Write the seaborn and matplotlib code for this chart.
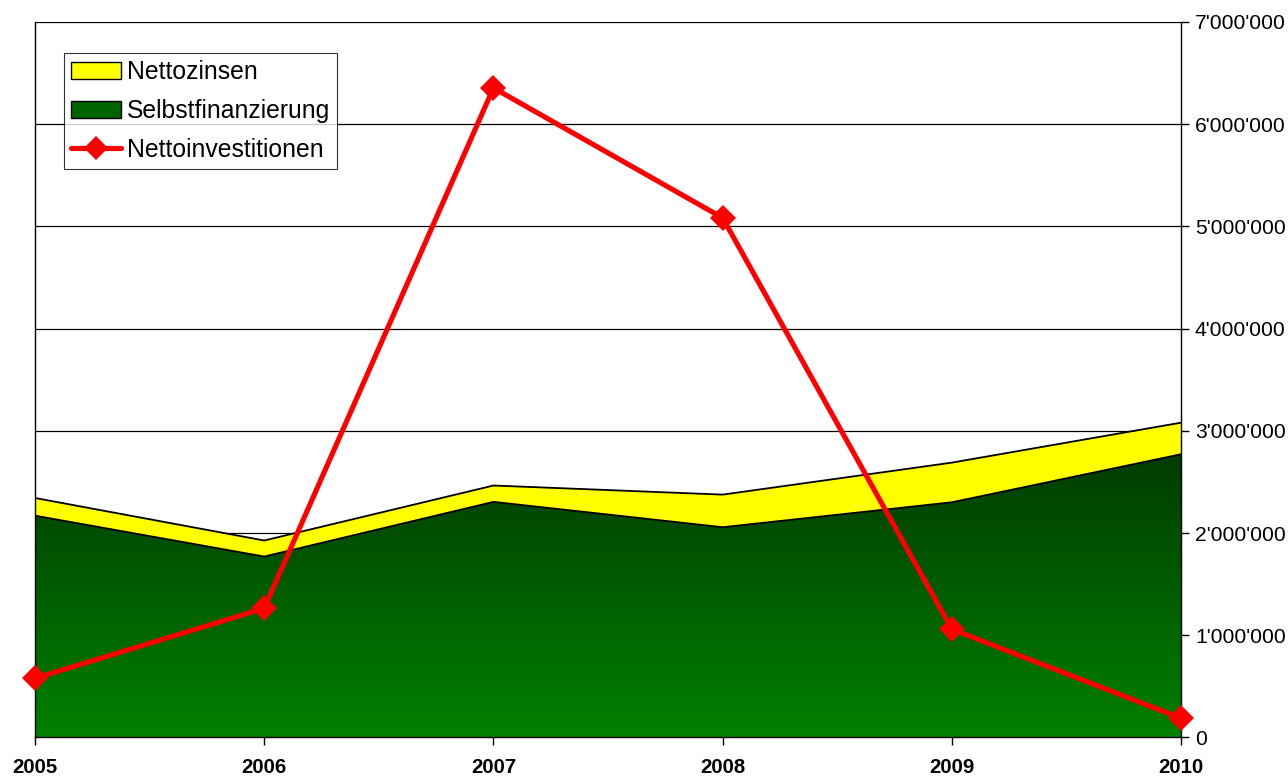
import numpy as np
import pandas as pd
import seaborn as sns
import matplotlib.pyplot as plt
from matplotlib.colors import LinearSegmentedColormap
from matplotlib.ticker import FuncFormatter
from matplotlib.lines import Line2D
from matplotlib.patches import Patch

# Data
years = [2005, 2006, 2007, 2008, 2009, 2010]
selbstfinanzierung = [2170000, 1770000, 2305000, 2057000, 2301000, 2771000]
nettozinsen = [173000, 157000, 160000, 319000, 388000, 309000]
nettoinvestitionen = [579000, 1264000, 6355000, 5083000, 1059000, 188000]

df = pd.DataFrame({"Jahr": years,
                   "Selbstfinanzierung": selbstfinanzierung,
                   "Nettozinsen": nettozinsen,
                   "Nettoinvestitionen": nettoinvestitionen})
df["Total"] = df["Selbstfinanzierung"] + df["Nettozinsen"]

sns.set_style("white")
plt.rcParams["font.family"] = ["Liberation Sans", "DejaVu Sans"]
plt.rcParams["text.color"] = "black"
plt.rcParams["xtick.color"] = "black"
plt.rcParams["ytick.color"] = "black"

fig = plt.figure(figsize=(12.88, 7.79), dpi=100)
ax = fig.add_axes([0.0272, 0.0533, 0.8898, 0.9185])

# Nettozinsen stacked on top (yellow)
ax.fill_between(df["Jahr"], df["Selbstfinanzierung"], df["Total"],
                color="#ffff00", zorder=2, linewidth=0)
ax.plot(df["Jahr"], df["Total"], color="black", lw=1.3, zorder=3)

# Selbstfinanzierung with vertical gradient
poly = ax.fill_between(df["Jahr"], 0, df["Selbstfinanzierung"],
                       facecolor="none", linewidth=0, zorder=2)
cmap = LinearSegmentedColormap.from_list("gr", ["#008000", "#003c00"])
grad = np.linspace(0, 1, 256).reshape(-1, 1)
top = df["Selbstfinanzierung"].max()
im = ax.imshow(grad, extent=[years[0], years[-1], 0, top], origin="lower",
               cmap=cmap, aspect="auto", zorder=2)
im.set_clip_path(poly.get_paths()[0], transform=ax.transData)
ax.plot(df["Jahr"], df["Selbstfinanzierung"], color="black", lw=1.3, zorder=3)

# Nettoinvestitionen line
sns.lineplot(data=df, x="Jahr", y="Nettoinvestitionen", ax=ax, color="#ff0000",
             lw=3.7, marker="D", markersize=13, markeredgewidth=0, zorder=5,
             clip_on=False)

ax.set_xlim(2005, 2010)
ax.set_ylim(0, 7000000)
ax.set_yticks(range(0, 7000001, 1000000))
ax.yaxis.set_major_formatter(FuncFormatter(lambda v, p: f"{int(v):,}".replace(",", "'")))
ax.yaxis.tick_right()
ax.grid(axis="y", color="black", lw=0.9, zorder=1)
ax.set_axisbelow(True)
ax.set_xlabel("")
ax.set_ylabel("")
ax.set_xticks(years)
ax.set_xticklabels([str(y) for y in years], fontweight="bold", fontsize=14.7)
ax.tick_params(axis="y", labelsize=15.2, length=6, width=1, direction="out",
               right=True, left=False, pad=4)
ax.tick_params(axis="x", length=6, width=1, direction="out", bottom=True, pad=9)
for s in ["left", "right", "bottom"]:
    ax.spines[s].set_color("black")
    ax.spines[s].set_linewidth(1)
ax.spines["top"].set_visible(False)

handles = [Patch(facecolor="#ffff00", edgecolor="black", label="Nettozinsen"),
           Patch(facecolor="#006400", edgecolor="black", label="Selbstfinanzierung"),
           Line2D([0], [0], color="#ff0000", lw=3.7, marker="D", markersize=12,
                  markeredgewidth=0, label="Nettoinvestitionen")]
leg = ax.legend(handles=handles, loc="upper left", bbox_to_anchor=(0.025, 0.957),
                fontsize=17.8, frameon=True, fancybox=False, edgecolor="black",
                handlelength=2.0, handleheight=0.7, labelspacing=0.6,
                borderpad=0.3, handletextpad=0.25, borderaxespad=0)
leg.get_frame().set_linewidth(0.8)
leg.set_zorder(10)

plt.savefig("out.png", dpi=100)
